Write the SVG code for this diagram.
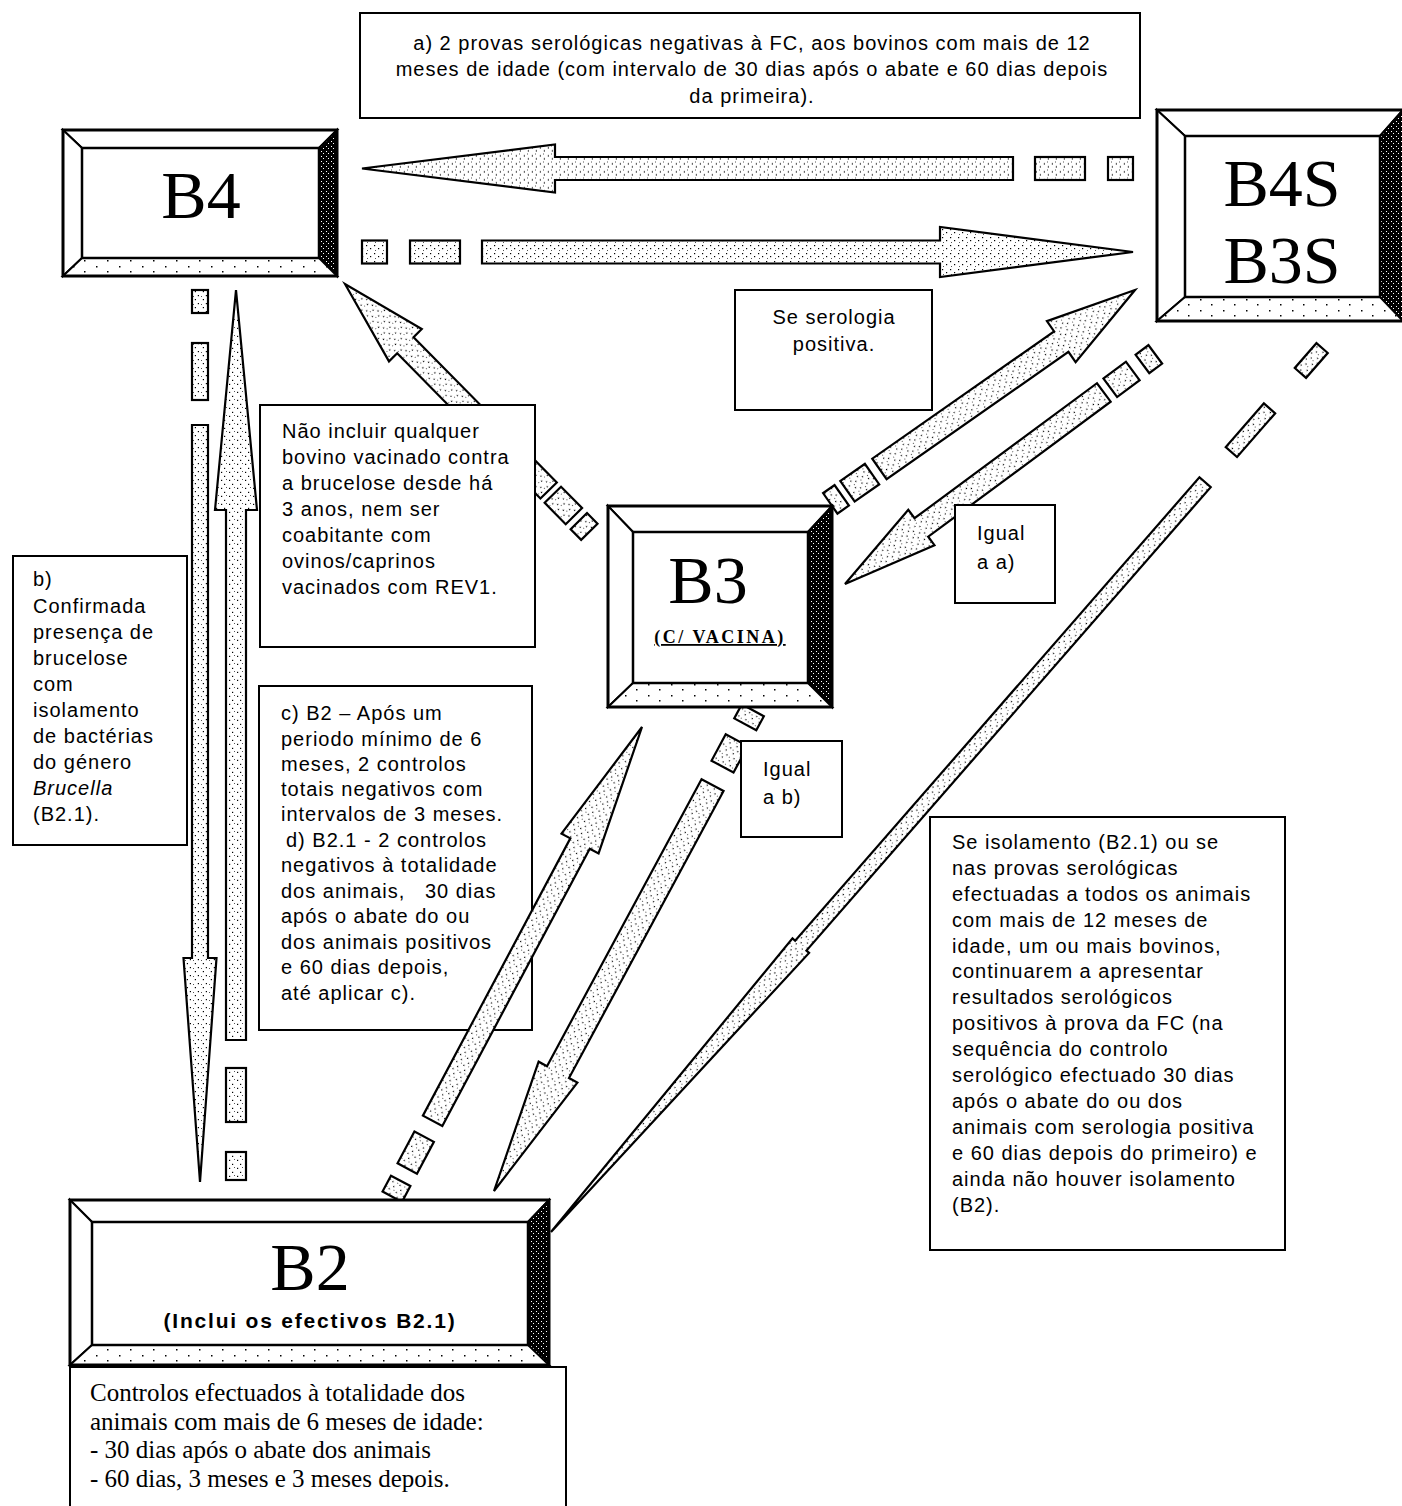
<svg xmlns="http://www.w3.org/2000/svg" width="1402" height="1506" viewBox="0 0 1402 1506">
<defs>
<pattern id="st" width="8" height="8" patternUnits="userSpaceOnUse">
<rect width="8" height="8" fill="#fff"/>
<rect x="1" y="1" width="1.2" height="1.2" fill="#000"/>
<rect x="5" y="4" width="1.2" height="1.2" fill="#000"/>
<rect x="2" y="6" width="1" height="1" fill="#555"/>
</pattern>
<pattern id="dk" width="5" height="5" patternUnits="userSpaceOnUse">
<rect width="5" height="5" fill="#000"/>
<rect x="1" y="1" width="1" height="1" fill="#fff"/>
<rect x="3" y="3" width="1" height="1" fill="#fff"/>
</pattern>
<pattern id="lt" width="23" height="11" patternUnits="userSpaceOnUse">
<rect width="23" height="11" fill="#fff"/>
<rect x="4" y="2" width="1.5" height="1.5" fill="#000"/>
<rect x="15" y="7" width="1.5" height="1.5" fill="#000"/>
</pattern>
</defs>
<style>
.box{fill:#fff;stroke:#000;stroke-width:2}
.bw{fill:#fff;stroke:#000;stroke-width:2;stroke-linejoin:miter}
.bd{fill:url(#dk);stroke:#000;stroke-width:2}
.bb{fill:url(#lt);stroke:#000;stroke-width:2}
.outer{fill:none;stroke:#000;stroke-width:3}
.inner{fill:#fff;stroke:#000;stroke-width:2.5}
.arr{fill:url(#st);stroke:#000;stroke-width:2.2;stroke-linejoin:miter}
.t{font-family:"Liberation Sans",Arial,sans-serif;font-size:20px;letter-spacing:1px;fill:#000}
.big{font-family:"Liberation Serif","Times New Roman",serif;font-size:68px;fill:#000;text-anchor:middle}
.ser{font-family:"Liberation Serif","Times New Roman",serif;font-size:25px;fill:#000}
</style>
<rect width="1402" height="1506" fill="#fff"/>

<g id="note-c">
<rect class="box" x="259" y="686" width="273" height="344"/>
<text class="t" x="281" y="720">c) B2 – Após um</text>
<text class="t" x="281" y="746">periodo mínimo de 6</text>
<text class="t" x="281" y="771">meses, 2 controlos</text>
<text class="t" x="281" y="796">totais negativos com</text>
<text class="t" x="281" y="821">intervalos de 3 meses.</text>
<text class="t" x="286" y="847">d) B2.1 - 2 controlos</text>
<text class="t" x="281" y="872">negativos à totalidade</text>
<text class="t" x="281" y="898" xml:space="preserve">dos animais,   30 dias</text>
<text class="t" x="281" y="923">após o abate do ou</text>
<text class="t" x="281" y="949">dos animais positivos</text>
<text class="t" x="281" y="974">e 60 dias depois,</text>
<text class="t" x="281" y="1000">até aplicar c).</text>
</g>

<g id="connectors">
<g id="a-b4s-b4" transform="translate(362,168.5) rotate(180)">
<polygon class="arr" points="0,0 -193,-24 -193,-11.5 -651,-11.5 -651,11.5 -193,11.5 -193,24"/>
<rect class="arr" x="-723" y="-11.5" width="50" height="23"/>
<rect class="arr" x="-771" y="-11.5" width="25" height="23"/>
</g>
<g id="a-b4-b4s" transform="translate(1133,252)">
<polygon class="arr" points="0,0 -193,-25 -193,-11.5 -651,-11.5 -651,11.5 -193,11.5 -193,25"/>
<rect class="arr" x="-723" y="-11.5" width="50" height="23"/>
<rect class="arr" x="-771" y="-11.5" width="25" height="23"/>
</g>
<g id="a-b4-b2" transform="translate(200,1182) rotate(90)">
<polygon class="arr" points="0,0 -224,-16.5 -224,-8 -757,-8 -757,8 -224,8 -224,16.5"/>
<rect class="arr" x="-839" y="-8" width="57" height="16"/>
<rect class="arr" x="-892" y="-8" width="23" height="16"/>
</g>
<g id="a-b2-b4" transform="translate(236,290) rotate(-90)">
<polygon class="arr" points="0,0 -220,-21 -220,-10 -750,-10 -750,10 -220,10 -220,21"/>
<rect class="arr" x="-832" y="-10" width="54" height="20"/>
<rect class="arr" x="-890" y="-10" width="28" height="20"/>
</g>
<g id="a-b3-b4" transform="translate(345,284) rotate(-134.6)">
<polygon class="arr" points="0,0 -86,-23 -86,-11.5 -290,-11.5 -290,11.5 -86,11.5 -86,23"/>
<rect class="arr" x="-326" y="-11.5" width="30" height="23"/>
<rect class="arr" x="-348" y="-11.5" width="15" height="23"/>
</g>
<g id="a-b3-b4s" transform="translate(1135,290) rotate(-35)">
<polygon class="arr" points="0,0 -90,-25 -90,-12.5 -312,-12.5 -312,12.5 -90,12.5 -90,25"/>
<rect class="arr" x="-351" y="-12.5" width="30" height="25"/>
<rect class="arr" x="-372" y="-12.5" width="14" height="25"/>
</g>
<g id="a-b4s-b3" transform="translate(845,584) rotate(143.5)">
<polygon class="arr" points="0,0 -95,-22 -95,-11.5 -322,-11.5 -322,11.5 -95,11.5 -95,22"/>
<rect class="arr" x="-358" y="-11.5" width="28" height="23"/>
<rect class="arr" x="-386" y="-11.5" width="16" height="23"/>
</g>
<g id="a-b2-b3" transform="translate(642,727) rotate(-62)">
<polygon class="arr" points="0,0 -132,-21 -132,-11 -446,-11 -446,11 -132,11 -132,21"/>
<rect class="arr" x="-500" y="-11" width="36" height="22"/>
<rect class="arr" x="-532" y="-11" width="18" height="22"/>
</g>
<g id="a-b3-b2" transform="translate(494,1191) rotate(118.3)">
<polygon class="arr" points="0,0 -135,-22 -135,-12.5 -461,-12.5 -461,12.5 -135,12.5 -135,22"/>
<rect class="arr" x="-512" y="-12.5" width="30" height="25"/>
<rect class="arr" x="-546" y="-12.5" width="16" height="25"/>
</g>
<g id="a-b4s-b2" transform="translate(551,1232) rotate(131.1)">
<polygon class="arr" points="0,0 -380,-11 -380,-7.5 -995,-7.5 -995,7.5 -380,7.5 -380,11"/>
<rect class="arr" x="-1093" y="-7.5" width="58" height="15"/>
<rect class="arr" x="-1173" y="-7.5" width="33" height="15"/>
</g>
</g>

<g id="note-a">
<rect class="box" x="360" y="13" width="780" height="105"/>
<text class="t" x="752" y="50" text-anchor="middle">a) 2 provas serológicas negativas à FC, aos bovinos com mais de 12</text>
<text class="t" x="752" y="76" text-anchor="middle">meses de idade (com intervalo de 30 dias após o abate e 60 dias depois</text>
<text class="t" x="752" y="103" text-anchor="middle">da primeira).</text>
</g>

<g id="B4">
<polygon class="bw" points="63,130 337,130 319,148 82,148"/>
<polygon class="bw" points="63,130 82,148 82,258 63,276"/>
<polygon class="bd" points="337,130 337,276 319,258 319,148"/>
<polygon class="bb" points="63,276 82,258 319,258 337,276"/>
<rect class="inner" x="82" y="148" width="237" height="110"/>
<rect class="outer" x="63" y="130" width="274" height="146"/>
<text class="big" x="201" y="218">B4</text>
</g>

<g id="B4S-B3S">
<polygon class="bw" points="1157,110 1403,110 1380,136 1185,136"/>
<polygon class="bw" points="1157,110 1185,136 1185,297 1157,321"/>
<polygon class="bd" points="1403,110 1403,321 1380,297 1380,136"/>
<polygon class="bb" points="1157,321 1185,297 1380,297 1403,321"/>
<rect class="inner" x="1185" y="136" width="195" height="161"/>
<rect class="outer" x="1157" y="110" width="247" height="211"/>
<text class="big" x="1282" y="206">B4S</text>
<text class="big" x="1282" y="283">B3S</text>
</g>

<g id="note-serologia">
<rect class="box" x="735" y="290" width="197" height="120"/>
<text class="t" x="834" y="324" text-anchor="middle">Se serologia</text>
<text class="t" x="834" y="351" text-anchor="middle">positiva.</text>
</g>

<g id="note-naoincluir">
<rect class="box" x="260" y="405" width="275" height="242"/>
<text class="t" x="282" y="438">Não incluir qualquer</text>
<text class="t" x="282" y="464">bovino vacinado contra</text>
<text class="t" x="282" y="490">a brucelose desde há</text>
<text class="t" x="282" y="516">3 anos, nem ser</text>
<text class="t" x="282" y="542">coabitante com</text>
<text class="t" x="282" y="568">ovinos/caprinos</text>
<text class="t" x="282" y="594">vacinados com REV1.</text>
</g>

<g id="note-b">
<rect class="box" x="13" y="556" width="174" height="289"/>
<text class="t" x="33" y="586">b)</text>
<text class="t" x="33" y="613">Confirmada</text>
<text class="t" x="33" y="639">presença de</text>
<text class="t" x="33" y="665">brucelose</text>
<text class="t" x="33" y="691">com</text>
<text class="t" x="33" y="717">isolamento</text>
<text class="t" x="33" y="743">de bactérias</text>
<text class="t" x="33" y="769">do género</text>
<text class="t" x="33" y="795" font-style="italic">Brucella</text>
<text class="t" x="33" y="821">(B2.1).</text>
</g>

<g id="B3">
<polygon class="bw" points="608,506 832,506 808,532 633,532"/>
<polygon class="bw" points="608,506 633,532 633,683 608,707"/>
<polygon class="bd" points="832,506 832,707 808,683 808,532"/>
<polygon class="bb" points="608,707 633,683 808,683 832,707"/>
<rect class="inner" x="633" y="532" width="175" height="151"/>
<rect class="outer" x="608" y="506" width="224" height="201"/>
<text class="big" x="708" y="603">B3</text>
<text x="720" y="643" text-anchor="middle" font-family="Liberation Serif, Times New Roman, serif" font-size="18" font-weight="bold" letter-spacing="2.5" text-decoration="underline">(C/ VACINA)</text>
</g>

<g id="note-igual-a">
<rect class="box" x="955" y="505" width="100" height="98"/>
<text class="t" x="977" y="540">Igual</text>
<text class="t" x="977" y="569">a a)</text>
</g>

<g id="note-igual-b">
<rect class="box" x="741" y="741" width="101" height="96"/>
<text class="t" x="763" y="776">Igual</text>
<text class="t" x="763" y="804">a b)</text>
</g>

<g id="note-isolamento">
<rect class="box" x="930" y="817" width="355" height="433"/>
<text class="t" x="952" y="849">Se isolamento (B2.1) ou se</text>
<text class="t" x="952" y="875">nas provas serológicas</text>
<text class="t" x="952" y="901">efectuadas a todos os animais</text>
<text class="t" x="952" y="927">com mais de 12 meses de</text>
<text class="t" x="952" y="953">idade, um ou mais bovinos,</text>
<text class="t" x="952" y="978">continuarem a apresentar</text>
<text class="t" x="952" y="1004">resultados serológicos</text>
<text class="t" x="952" y="1030">positivos à prova da FC (na</text>
<text class="t" x="952" y="1056">sequência do controlo</text>
<text class="t" x="952" y="1082">serológico efectuado 30 dias</text>
<text class="t" x="952" y="1108">após o abate do ou dos</text>
<text class="t" x="952" y="1134">animais com serologia positiva</text>
<text class="t" x="952" y="1160">e 60 dias depois do primeiro) e</text>
<text class="t" x="952" y="1186">ainda não houver isolamento</text>
<text class="t" x="952" y="1212">(B2).</text>
</g>

<g id="B2">
<polygon class="bw" points="70,1200 549,1200 528,1222 92,1222"/>
<polygon class="bw" points="70,1200 92,1222 92,1345 70,1365"/>
<polygon class="bd" points="549,1200 549,1365 528,1345 528,1222"/>
<polygon class="bb" points="70,1365 92,1345 528,1345 549,1365"/>
<rect class="inner" x="92" y="1222" width="436" height="123"/>
<rect class="outer" x="70" y="1200" width="479" height="165"/>
<text class="big" x="310" y="1290" font-size="66">B2</text>
<text x="310" y="1328" text-anchor="middle" font-family="Liberation Sans, Arial, sans-serif" font-size="21" font-weight="bold" letter-spacing="1.8">(Inclui os efectivos B2.1)</text>
</g>

<g id="note-controlos">
<rect class="box" x="70" y="1367" width="496" height="150"/>
<text class="ser" x="90" y="1401">Controlos efectuados à totalidade dos</text>
<text class="ser" x="90" y="1430">animais com mais de 6 meses de idade:</text>
<text class="ser" x="90" y="1458">- 30 dias após o abate dos animais</text>
<text class="ser" x="90" y="1487">- 60 dias, 3 meses e 3 meses depois.</text>
</g>
</svg>
